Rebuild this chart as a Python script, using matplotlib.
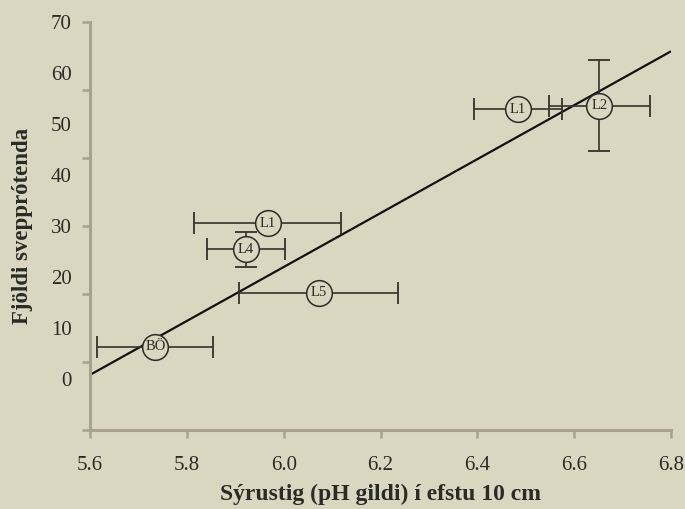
import numpy as np
import matplotlib
matplotlib.use('Agg')
import matplotlib.pyplot as plt

# Site labels, pH (x) and number of fungal species (y), with error bars
sites = ['BÖ', 'L1', 'L4', 'L5', 'L1', 'L2']
ph = [5.735, 5.967, 5.922, 6.072, 6.484, 6.652]
ph_err = [0.12, 0.152, 0.081, 0.164, 0.091, 0.105]
count = [6.3, 30.5, 25.4, 16.9, 52.8, 53.5]
count_err = [0, 0, 3.4, 0, 0, 8.9]

# Regression line end points
fit_x = [5.6, 6.8]
fit_y = [0.8, 64.2]

x_ticks = [5.6, 5.8, 6.0, 6.2, 6.4, 6.6, 6.8]
y_labels = [0, 10, 20, 30, 40, 50, 60, 70]

bg = '#d9d7bf'
axis_col = '#aaa28a'
text_col = '#2a2a26'
serif = ['Liberation Serif', 'DejaVu Serif']

fig = plt.figure(figsize=(6.85, 5.09), dpi=100, facecolor=bg)
ax = fig.add_axes([0.1314, 0.1552, 0.8482, 0.8022], facecolor=bg)

ax.plot(fit_x, fit_y, color='#111111', lw=1.6, zorder=2, solid_capstyle='butt')

for i in range(len(sites)):
    yerr = count_err[i] if count_err[i] > 0 else None
    ax.errorbar(ph[i], count[i], xerr=ph_err[i], yerr=yerr,
                fmt='none', ecolor='#33332c', elinewidth=1.2,
                capsize=8, capthick=1.3, zorder=3)

ax.plot(ph, count, 'o', ms=18.5, mfc=bg, mec='#2a2a26', mew=1.1,
        linestyle='none', zorder=4)
for i in range(len(sites)):
    ax.text(ph[i], count[i], sites[i], ha='center', va='center',
            fontsize=10.5, family=serif, color=text_col, zorder=5)

ax.set_xlim(5.6, 6.8)
ax.set_ylim(-10, 70)

ax.set_xticks(x_ticks)
ax.set_xticklabels(['%.1f' % v for v in x_ticks], family=serif,
                   fontsize=15, color=text_col)
ax.tick_params(axis='x', which='major', direction='out', length=6,
               width=1.8, color=axis_col, pad=13)

ax.yaxis.remove_overlapping_locs = False
ax.set_yticks(np.linspace(-10, 70, 7))
ax.set_yticklabels([])
ax.tick_params(axis='y', which='major', direction='out', length=6,
               width=1.8, color=axis_col)
ax.set_yticks(y_labels, minor=True)
ax.set_yticklabels([str(v) for v in y_labels], minor=True, family=serif,
                   fontsize=15, color=text_col)
ax.tick_params(axis='y', which='minor', length=0, pad=13)

for side in ['top', 'right']:
    ax.spines[side].set_visible(False)
for side in ['left', 'bottom']:
    ax.spines[side].set_color(axis_col)
    ax.spines[side].set_linewidth(2.2)

ax.set_xlabel('Sýrustig (pH gildi) í efstu 10 cm', family=serif,
              fontsize=17, fontweight='bold', color=text_col, labelpad=6)
ax.set_ylabel('Fjöldi svepprótenda', family=serif, fontsize=16.5,
              fontweight='bold', color=text_col, labelpad=13)

fig.savefig('out.png', dpi=100, facecolor=bg)
